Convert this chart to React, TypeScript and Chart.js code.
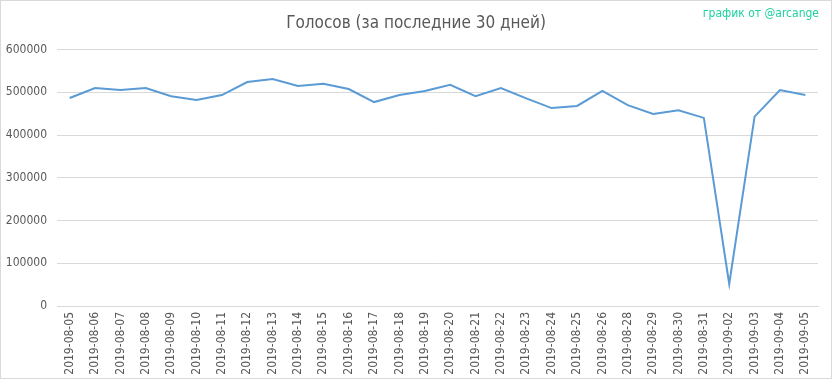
import React, { useEffect, useRef } from "react";
import { Chart, registerables } from "chart.js";

Chart.register(...registerables);

const categories: string[] = [
  "2019-08-05", "2019-08-06", "2019-08-07", "2019-08-08", "2019-08-09", "2019-08-10",
  "2019-08-11", "2019-08-12", "2019-08-13", "2019-08-14", "2019-08-15", "2019-08-16",
  "2019-08-17", "2019-08-18", "2019-08-19", "2019-08-20", "2019-08-21", "2019-08-22",
  "2019-08-23", "2019-08-24", "2019-08-25", "2019-08-26", "2019-08-28", "2019-08-29",
  "2019-08-30", "2019-08-31", "2019-09-02", "2019-09-03", "2019-09-04", "2019-09-05",
];

const votes: number[] = [
  486500, 510000, 505000, 510000, 490500, 482000,
  493500, 524000, 531000, 514600, 520000, 507600,
  477000, 493500, 503000, 517600, 491000, 510000,
  485800, 463000, 468000, 503000, 470000, 449000,
  458000, 440000, 51500, 443000, 505000, 493500,
];

const yTicks: number[] = [0, 100000, 200000, 300000, 400000, 500000, 600000];

const titleText = "Голосов (за последние 30 дней)";
const watermarkText = "график от @arcange";

const FONT = "'Liberation Sans Narrow', 'DejaVu Sans Condensed', sans-serif";

const overlayPlugin = {
  id: "overlay",
  beforeDraw(chart: any) {
    const ctx = chart.ctx;
    ctx.save();
    ctx.fillStyle = "#ffffff";
    ctx.fillRect(0, 0, chart.width, chart.height);
    ctx.strokeStyle = "#d9d9d9";
    ctx.lineWidth = 1;
    ctx.strokeRect(0.5, 0.5, chart.width - 1, chart.height - 1);
    ctx.restore();
  },
  afterDraw(chart: any) {
    const ctx = chart.ctx;
    ctx.save();
    ctx.fillStyle = "#595959";
    ctx.font = `17px ${FONT}`;
    ctx.textAlign = "center";
    ctx.textBaseline = "middle";
    ctx.fillText(titleText, 416, 24);
    ctx.fillStyle = "#1fd0a0";
    ctx.font = `12px ${FONT}`;
    ctx.textAlign = "right";
    ctx.fillText(watermarkText, 819, 14);
    ctx.restore();
  },
};

export default function App() {
  const ref = useRef<HTMLCanvasElement | null>(null);
  useEffect(() => {
    document.body.style.margin = "0";
    if (!ref.current) return;
    const chart = new Chart(ref.current, {
      type: "line",
      data: {
        labels: categories,
        datasets: [
          {
            data: votes,
            borderColor: "#5b9bd5",
            borderWidth: 2,
            pointRadius: 0,
            tension: 0,
            fill: false,
          },
        ],
      },
      options: {
        animation: false,
        responsive: false,
        devicePixelRatio: 1,
        layout: { padding: { top: 49.5, right: 14, bottom: 0, left: 0 } },
        plugins: { legend: { display: false }, title: { display: false }, tooltip: { enabled: false } },
        scales: {
          x: {
            offset: true,
            grid: { display: false, drawTicks: false },
            border: { display: true, color: "#d9d9d9" },
            ticks: {
              minRotation: 90,
              maxRotation: 90,
              autoSkip: false,
              padding: 6,
              color: "#595959",
              font: { family: FONT, size: 12 },
            },
            afterFit(scale: any) {
              scale.height = 73;
            },
          },
          y: {
            min: 0,
            max: 600000,
            afterBuildTicks(scale: any) {
              scale.ticks = yTicks.map((v) => ({ value: v }));
            },
            grid: { color: "#d9d9d9", drawTicks: false },
            border: { display: false },
            ticks: {
              padding: 10,
              color: "#595959",
              font: { family: FONT, size: 12 },
              callback: (v: any) => String(v),
            },
            afterFit(scale: any) {
              scale.width = 57;
            },
          },
        },
      },
      plugins: [overlayPlugin],
    });
    return () => chart.destroy();
  }, []);
  return <canvas ref={ref} width={832} height={379} style={{ display: "block" }} />;
}
